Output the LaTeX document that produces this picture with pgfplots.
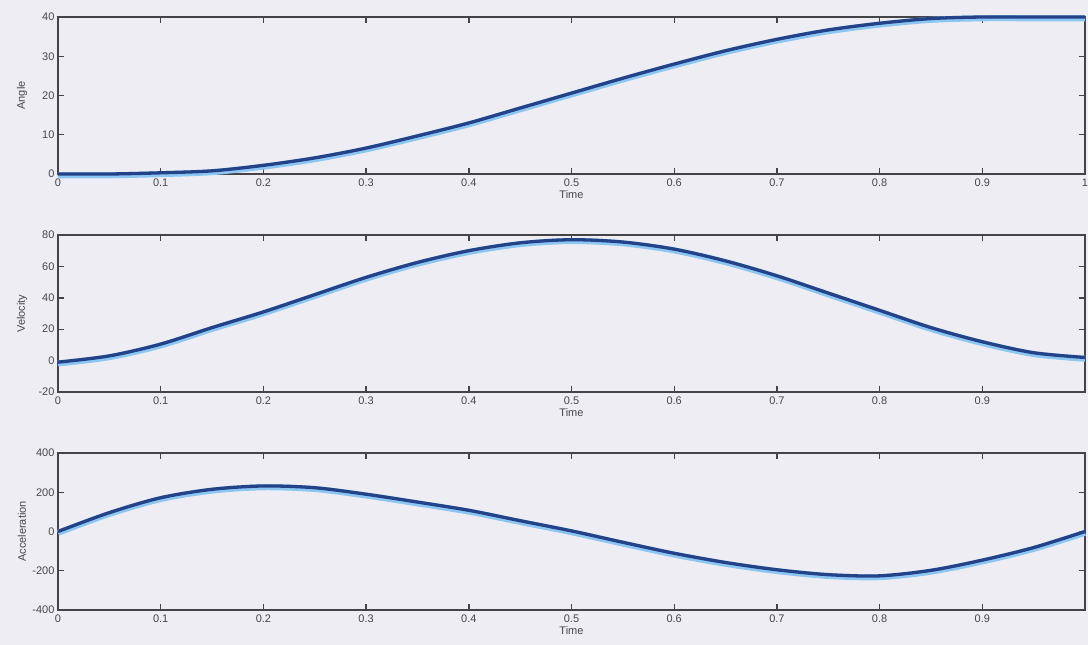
\documentclass[border=0pt]{standalone}
\usepackage{fontspec}
\setmainfont{Liberation Sans}
\usepackage{pgfplots}
\pgfplotsset{compat=1.18}
\definecolor{bgc}{RGB}{238,237,243}
\definecolor{axc}{RGB}{68,68,72}
\definecolor{txt}{RGB}{70,70,76}
\definecolor{corec}{RGB}{36,66,136}
\definecolor{haloc}{RGB}{140,198,242}
\pgfplotsset{
 myax/.style={
  width=1027pt, height=157pt, scale only axis, anchor=north west,
  xmin=0, xmax=1,
  xtick={0,0.1,0.2,0.3,0.4,0.5,0.6,0.7,0.8,0.9,1},
  axis line style={line width=1.6pt, axc},
  tick style={line width=1.4pt, axc},
  major tick length=6pt, tick align=inside,
  ticklabel style={font=\fontsize{11}{13}\selectfont, text=txt},
  xticklabel style={yshift=-1pt},
  label style={font=\fontsize{11}{13}\selectfont, text=txt},
  xlabel={Time},
  xlabel style={yshift=3pt},
  ylabel style={at={(axis description cs:-0.035,0.5)}, anchor=center},
  clip=false,
 },
 haloline/.style={color=haloc, line width=6pt, smooth, yshift=-1.3pt},
 coreline/.style={color=corec, line width=3.3pt, smooth},
}
\begin{document}
\begin{tikzpicture}
\fill[bgc] (0pt,0pt) rectangle (1088pt,-645pt);
\path[use as bounding box] (0pt,0pt) rectangle (1088pt,-645pt);
% Angle
\begin{axis}[myax, at={(58pt,-17pt)},
  ymin=0, ymax=40, ytick={0,10,20,30,40},
  yticklabels={0,10,20,30,40},
  xticklabels={0,0.1,0.2,0.3,0.4,0.5,0.6,0.7,0.8,0.9,1},
  ylabel={Angle}]
\addplot[haloline] coordinates {(0,0) (0.05,0) (0.1,0.3) (0.15,0.8) (0.2,2.2) (0.25,4.1) (0.3,6.6) (0.35,9.7) (0.4,13) (0.45,16.8) (0.5,20.6) (0.55,24.4) (0.6,28) (0.65,31.4) (0.7,34.3) (0.75,36.7) (0.8,38.4) (0.85,39.6) (0.9,40) (0.95,40) (1,40)};
\addplot[coreline] coordinates {(0,0) (0.05,0) (0.1,0.3) (0.15,0.8) (0.2,2.2) (0.25,4.1) (0.3,6.6) (0.35,9.7) (0.4,13) (0.45,16.8) (0.5,20.6) (0.55,24.4) (0.6,28) (0.65,31.4) (0.7,34.3) (0.75,36.7) (0.8,38.4) (0.85,39.6) (0.9,40) (0.95,40) (1,40)};
\end{axis}
% Velocity
\begin{axis}[myax, at={(58pt,-235pt)},
  ymin=-20, ymax=80, ytick={-20,0,20,40,60,80},
  yticklabels={-20,0,20,40,60,80},
  xticklabels={0,0.1,0.2,0.3,0.4,0.5,0.6,0.7,0.8,0.9,},
  ylabel={Velocity}]
\addplot[haloline] coordinates {(0,-1) (0.05,3) (0.1,10.5) (0.15,21) (0.2,31) (0.25,42) (0.3,53) (0.35,62.5) (0.4,70) (0.45,75) (0.5,77) (0.55,75.5) (0.6,71) (0.65,63.5) (0.7,54) (0.75,43) (0.8,32) (0.85,21) (0.9,12) (0.95,5) (1,2)};
\addplot[coreline] coordinates {(0,-1) (0.05,3) (0.1,10.5) (0.15,21) (0.2,31) (0.25,42) (0.3,53) (0.35,62.5) (0.4,70) (0.45,75) (0.5,77) (0.55,75.5) (0.6,71) (0.65,63.5) (0.7,54) (0.75,43) (0.8,32) (0.85,21) (0.9,12) (0.95,5) (1,2)};
\end{axis}
% Acceleration
\begin{axis}[myax, at={(58pt,-453pt)},
  ymin=-400, ymax=400, ytick={-400,-200,0,200,400},
  yticklabels={-400,-200,0,200,400},
  xticklabels={0,0.1,0.2,0.3,0.4,0.5,0.6,0.7,0.8,0.9,},
  ylabel={Acceleration}]
\addplot[haloline] coordinates {(0,0) (0.05,96) (0.1,172) (0.15,215) (0.2,232) (0.25,223) (0.3,190) (0.35,150) (0.4,108) (0.45,55) (0.5,3) (0.55,-55) (0.6,-111) (0.65,-158) (0.7,-195) (0.75,-220) (0.8,-226) (0.85,-198) (0.9,-146) (0.95,-82) (1,0)};
\addplot[coreline] coordinates {(0,0) (0.05,96) (0.1,172) (0.15,215) (0.2,232) (0.25,223) (0.3,190) (0.35,150) (0.4,108) (0.45,55) (0.5,3) (0.55,-55) (0.6,-111) (0.65,-158) (0.7,-195) (0.75,-220) (0.8,-226) (0.85,-198) (0.9,-146) (0.95,-82) (1,0)};
\end{axis}
\end{tikzpicture}
\end{document}
